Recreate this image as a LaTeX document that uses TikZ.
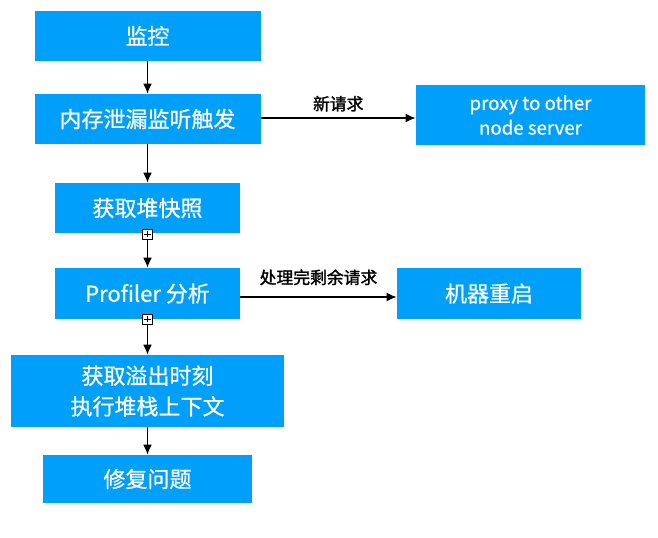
\documentclass[tikz,border=0pt]{standalone}
\usepackage{fontspec}
\setmainfont{Noto Sans CJK SC}
\newfontfamily\boxfont{Noto Sans CJK SC}[FakeBold=0.7]
\newfontfamily\lblfont{Noto Sans CJK SC}[FakeBold=1.6]
\usetikzlibrary{arrows.meta}
\definecolor{boxblue}{HTML}{00A0FA}
\tikzset{
  stepbox/.style={fill=boxblue, text=white, font=\boxfont\fontsize{16.5}{23}\selectfont, align=center, inner sep=0pt},
  flow/.style={line width=1.1pt, -{Latex[length=7.5pt,width=6.5pt]}},
  lbl/.style={font=\lblfont\fontsize{12.6}{15}\selectfont, text=black},
  plusbox/.style={draw, line width=0.6pt, fill=white, minimum size=7.5pt, inner sep=0pt,
    path picture={\draw[line width=0.6pt] ([yshift=1.3pt]path picture bounding box.south) -- ([yshift=-1.3pt]path picture bounding box.north)
      ([xshift=1.3pt]path picture bounding box.west) -- ([xshift=-1.3pt]path picture bounding box.east);}}
}
\begin{document}
\begin{tikzpicture}[x=0.75pt,y=-0.75pt]
\useasboundingbox (0,0) rectangle (658,537);
% main column
\node[stepbox, minimum width=169.5pt, minimum height=37.5pt] (monitor) at (147.5,36) {监控};
\node[stepbox, minimum width=169.5pt, minimum height=37.5pt] (leak) at (147.5,119) {内存泄漏监听触发};
\node[stepbox, minimum width=138.75pt, minimum height=37.5pt] (snap) at (147.5,208) {获取堆快照};
\node[stepbox, minimum width=138.75pt, minimum height=38.25pt] (prof) at (147.5,293.5) {Profiler 分析};
\node[stepbox, minimum width=204.75pt, minimum height=54pt] (stack) at (147.5,391) {获取溢出时刻\\执行堆栈上下文};
\node[stepbox, minimum width=156.75pt, minimum height=36pt] (fix) at (147.5,479) {修复问题};
% side boxes
\node[stepbox, minimum width=171.75pt, minimum height=45pt, font=\boxfont\fontsize{14}{18.5}\selectfont] (proxy) at (530.5,115) {proxy to other\\node server};
\node[stepbox, minimum width=138pt, minimum height=38.25pt] (restart) at (489,293.5) {机器重启};
% markers
\node[plusbox] (m1) at (147.5,234) {};
\node[plusbox] (m2) at (147.5,319) {};
% connectors
\draw[flow] (monitor) -- (leak);
\draw[flow] (leak) -- (snap);
\draw[flow] (m1) -- (prof);
\draw[flow] (m2) -- (stack);
\draw[flow] (stack) -- (fix);
\draw[flow] (leak.east |- 0,118) -- node[lbl, above=1pt] {新请求} (proxy.west |- 0,118);
\draw[flow] (prof.east |- 0,297) -- node[lbl, above=5pt] {处理完剩余请求} (restart.west |- 0,297);
\end{tikzpicture}
\end{document}
